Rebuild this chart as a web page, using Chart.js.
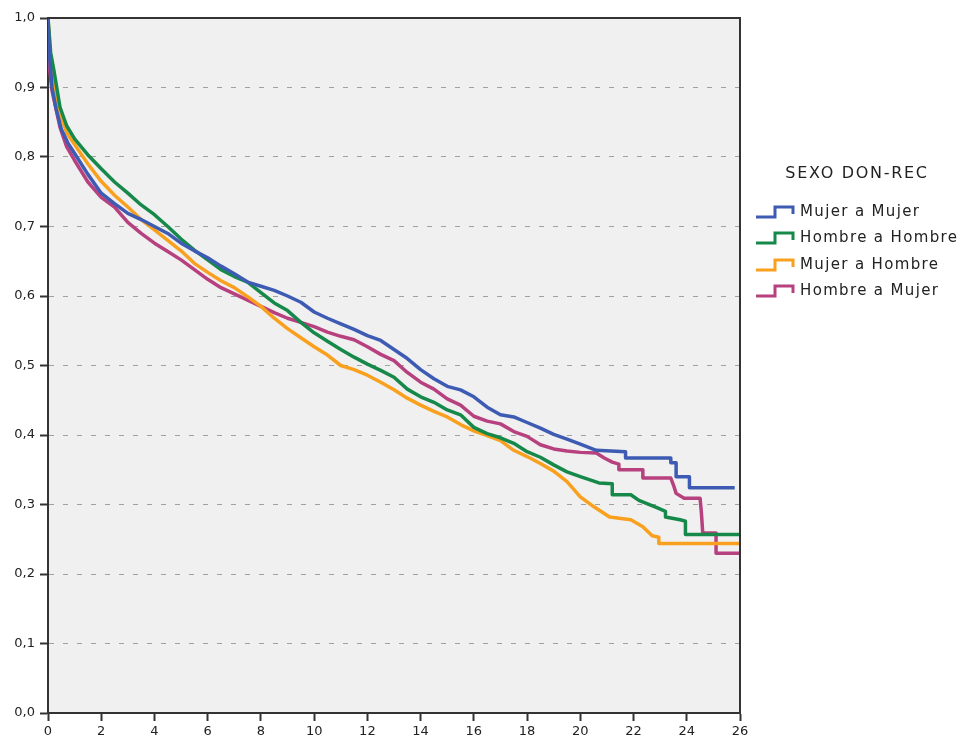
<!DOCTYPE html>
<html>
<head>
<meta charset="utf-8">
<script src="https://cdn.jsdelivr.net/npm/chart.js@4/dist/chart.umd.min.js"></script>
<style>
html,body{margin:0;padding:0;background:#fff;}
#wrap{width:962px;height:745px;position:relative;}
</style>
</head>
<body>
<div id="wrap"><canvas id="c"></canvas></div>
<script>
// ---- data ----
const legendTitle = 'SEXO DON-REC';
const seriesNames = ['Mujer a Mujer', 'Hombre a Hombre', 'Mujer a Hombre', 'Hombre a Mujer'];
const seriesColors = ['#3e5bb4', '#16894a', '#f9a01e', '#b7407f'];
const xTickValues = [0, 2, 4, 6, 8, 10, 12, 14, 16, 18, 20, 22, 24, 26];
const yTickLabels = ['0,0', '0,1', '0,2', '0,3', '0,4', '0,5', '0,6', '0,7', '0,8', '0,9', '1,0'];

// survival estimates (time, cumulative survival); repeated times mark visible steps in the tail
const mujerMujerTime = [0, 0.05, 0.15, 0.3, 0.5, 0.75, 1.0, 1.5, 2.0, 2.5, 3.0, 3.5, 4.0, 4.5, 5.0, 5.5, 6.0, 6.5, 7.0, 7.5, 8.0, 8.5, 9.0, 9.5, 10.0, 10.5, 11.0, 11.5, 12.0, 12.5, 13.0, 13.5, 14.0, 14.5, 15.0, 15.5, 16.0, 16.5, 17.0, 17.5, 18.0, 18.5, 19.0, 19.5, 20.0, 20.6, 21.7, 21.7, 23.4, 23.4, 23.6, 23.6, 24.1, 24.1, 25.8];
const mujerMujerSurv = [1.0, 0.95, 0.9, 0.87, 0.84, 0.82, 0.805, 0.775, 0.748, 0.733, 0.719, 0.71, 0.7, 0.69, 0.676, 0.665, 0.655, 0.643, 0.632, 0.62, 0.614, 0.608, 0.6, 0.591, 0.577, 0.568, 0.56, 0.552, 0.543, 0.536, 0.523, 0.51, 0.494, 0.481, 0.47, 0.465, 0.455, 0.44, 0.429, 0.426, 0.418, 0.41, 0.401, 0.394, 0.387, 0.378, 0.376, 0.367, 0.367, 0.36, 0.36, 0.34, 0.34, 0.324, 0.324];

const hombreHombreTime = [0, 0.1, 0.22, 0.45, 0.7, 1.0, 1.5, 2.0, 2.5, 3.0, 3.5, 4.0, 4.5, 5.0, 5.5, 6.0, 6.5, 7.0, 7.5, 8.0, 8.5, 9.0, 9.5, 10.0, 10.5, 11.0, 11.5, 12.0, 12.5, 13.0, 13.5, 14.0, 14.5, 15.0, 15.5, 16.0, 16.5, 17.0, 17.5, 18.0, 18.5, 19.0, 19.5, 20.0, 20.7, 21.2, 21.2, 21.9, 22.2, 22.9, 23.2, 23.2, 23.75, 23.95, 23.95, 26.0];
const hombreHombreSurv = [1.0, 0.95, 0.925, 0.872, 0.845, 0.826, 0.803, 0.783, 0.764, 0.748, 0.731, 0.717, 0.7, 0.682, 0.666, 0.652, 0.638, 0.628, 0.62, 0.605, 0.59, 0.579, 0.562, 0.547, 0.535, 0.523, 0.512, 0.502, 0.493, 0.483, 0.466, 0.455, 0.447, 0.436, 0.429, 0.411, 0.402, 0.396, 0.388, 0.376, 0.368, 0.357, 0.347, 0.34, 0.331, 0.33, 0.314, 0.314, 0.306, 0.295, 0.29, 0.282, 0.278, 0.276, 0.257, 0.257];

const mujerHombreTime = [0, 0.08, 0.2, 0.45, 0.7, 1.0, 1.5, 2.0, 2.5, 3.0, 3.5, 4.0, 4.5, 5.0, 5.5, 6.0, 6.5, 7.0, 7.5, 8.0, 8.5, 9.0, 9.5, 10.0, 10.5, 11.0, 11.5, 12.0, 12.5, 13.0, 13.5, 14.0, 14.5, 15.0, 15.5, 16.0, 16.5, 17.0, 17.5, 18.0, 18.5, 19.0, 19.5, 20.0, 20.5, 21.1, 21.9, 22.35, 22.7, 22.95, 22.95, 26.0];
const mujerHombreSurv = [1.0, 0.95, 0.915, 0.863, 0.835, 0.818, 0.79, 0.765, 0.745, 0.728, 0.71, 0.695, 0.68, 0.665, 0.647, 0.634, 0.622, 0.612, 0.599, 0.585, 0.568, 0.553, 0.54, 0.527, 0.515, 0.5, 0.494, 0.486, 0.476, 0.465, 0.453, 0.443, 0.434, 0.426, 0.415, 0.406, 0.399, 0.392, 0.378, 0.369, 0.359, 0.348, 0.333, 0.311, 0.297, 0.282, 0.278, 0.268, 0.255, 0.253, 0.244, 0.244];

const hombreMujerTime = [0, 0.05, 0.15, 0.45, 0.7, 1.0, 1.5, 2.0, 2.5, 3.0, 3.5, 4.0, 4.5, 5.0, 5.5, 6.0, 6.5, 7.0, 7.5, 8.0, 8.5, 9.0, 9.5, 10.0, 10.5, 11.0, 11.5, 12.0, 12.5, 13.0, 13.5, 14.0, 14.5, 15.0, 15.5, 16.0, 16.5, 17.0, 17.5, 18.0, 18.5, 19.0, 19.5, 20.0, 20.6, 20.9, 21.2, 21.45, 21.45, 22.35, 22.35, 23.4, 23.5, 23.6, 23.9, 24.5, 24.55, 24.6, 25.1, 25.1, 26.0];
const hombreMujerSurv = [1.0, 0.93, 0.896, 0.843, 0.815, 0.795, 0.764, 0.742, 0.728, 0.706, 0.69, 0.676, 0.664, 0.652, 0.638, 0.624, 0.612, 0.603, 0.594, 0.585, 0.576, 0.568, 0.562, 0.556, 0.548, 0.542, 0.537, 0.527, 0.516, 0.507, 0.49, 0.476, 0.466, 0.452, 0.443, 0.427, 0.42, 0.416, 0.405, 0.398, 0.386, 0.38, 0.377, 0.375, 0.374, 0.367, 0.361, 0.358, 0.35, 0.35, 0.338, 0.338, 0.328, 0.316, 0.309, 0.309, 0.288, 0.259, 0.259, 0.23, 0.23];

const seriesTimes = [mujerMujerTime, hombreHombreTime, mujerHombreTime, hombreMujerTime];
const seriesSurv = [mujerMujerSurv, hombreHombreSurv, mujerHombreSurv, hombreMujerSurv];

// ---- build chart ----
const FONT = "'DejaVu Sans', 'Liberation Sans', sans-serif";

const datasets = seriesNames.map((name, i) => ({
  label: name,
  data: seriesTimes[i].map((t, k) => ({ x: t, y: seriesSurv[i][k] })),
  borderColor: seriesColors[i],
  backgroundColor: seriesColors[i],
  borderWidth: 3.5,
  pointRadius: 0,
  pointHoverRadius: 0,
  fill: false,
  stepped: false,
  tension: 0,
  borderJoinStyle: 'round'
}));

const bgPlugin = {
  id: 'bgPlugin',
  beforeDraw(chart) {
    const { ctx, chartArea: a } = chart;
    ctx.save();
    ctx.fillStyle = '#ffffff';
    ctx.fillRect(0, 0, chart.width, chart.height);
    ctx.fillStyle = '#f0f0f0';
    ctx.fillRect(a.left, a.top, a.right - a.left, a.bottom - a.top);
    ctx.restore();
  }
};

const framePlugin = {
  id: 'framePlugin',
  afterDatasetsDraw(chart) {
    const { ctx, chartArea: a } = chart;
    ctx.save();
    ctx.strokeStyle = '#333333';
    ctx.lineWidth = 2;
    ctx.beginPath();
    ctx.moveTo(a.left, a.top);
    ctx.lineTo(a.right, a.top);
    ctx.lineTo(a.right, a.bottom);
    ctx.stroke();
    ctx.restore();
  }
};

const stepLegendPlugin = {
  id: 'stepLegendPlugin',
  afterDraw(chart) {
    const ctx = chart.ctx;
    ctx.save();
    ctx.fillStyle = '#222222';
    ctx.textBaseline = 'middle';
    ctx.textAlign = 'center';
    ctx.font = '16px ' + FONT;
    if ('letterSpacing' in ctx) ctx.letterSpacing = '1.7px';
    ctx.fillText(legendTitle, 857, 174);
    ctx.textAlign = 'left';
    ctx.font = '15px ' + FONT;
    if ('letterSpacing' in ctx) ctx.letterSpacing = '1.35px';
    const rowY = [211, 237, 264, 290];
    chart.data.datasets.forEach((ds, i) => {
      const y = rowY[i];
      ctx.strokeStyle = ds.borderColor;
      ctx.lineWidth = 3;
      ctx.lineJoin = 'miter';
      ctx.beginPath();
      ctx.moveTo(756, y + 6);
      ctx.lineTo(775, y + 6);
      ctx.lineTo(775, y - 4);
      ctx.lineTo(793, y - 4);
      ctx.lineTo(793, y + 3);
      ctx.stroke();
      ctx.fillStyle = '#222222';
      ctx.fillText(ds.label, 800, y + 1);
    });
    ctx.restore();
  }
};

new Chart(document.getElementById('c'), {
  type: 'line',
  data: { datasets },
  options: {
    responsive: true,
    maintainAspectRatio: false,
    animation: false,
    devicePixelRatio: 1,
    layout: { padding: { top: 18, right: 222, left: 0, bottom: 0 } },
    plugins: {
      legend: { display: false },
      tooltip: { enabled: false }
    },
    scales: {
      x: {
        type: 'linear',
        min: 0,
        max: 26,
        afterFit(scale) { scale.height = 32; },
        afterBuildTicks(scale) { scale.ticks = xTickValues.map(v => ({ value: v })); },
        ticks: {
          color: '#222222',
          font: { family: FONT, size: 13 },
          padding: 3,
          maxRotation: 0,
          autoSkip: false,
          callback: (v) => String(v)
        },
        grid: {
          drawOnChartArea: false,
          drawTicks: true,
          tickLength: 8,
          tickWidth: 2,
          tickColor: '#333333'
        },
        border: { display: true, color: '#333333', width: 2 }
      },
      y: {
        type: 'linear',
        min: 0,
        max: 1,
        afterFit(scale) { scale.width = 48; },
        afterBuildTicks(scale) { scale.ticks = yTickLabels.map((l, i) => ({ value: i / 10 })); },
        ticks: {
          color: '#222222',
          font: { family: FONT, size: 13 },
          padding: 5,
          autoSkip: false,
          callback: (v) => yTickLabels[Math.round(v * 10)]
        },
        grid: {
          drawOnChartArea: true,
          color: '#a0a0a0',
          lineWidth: 1,
          drawTicks: true,
          tickLength: 8,
          tickWidth: 2,
          tickColor: '#333333'
        },
        border: { display: true, color: '#333333', width: 2, dash: [5, 9] }
      }
    }
  },
  plugins: [bgPlugin, framePlugin, stepLegendPlugin]
});
</script>
</body>
</html>
